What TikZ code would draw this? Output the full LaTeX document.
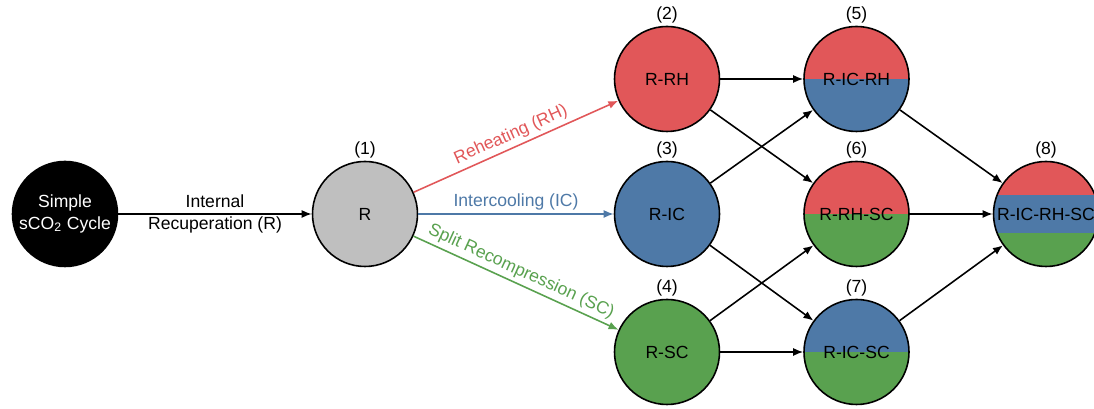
\documentclass[tikz,border=0pt]{standalone}
\usepackage{fontspec}
\setmainfont{Liberation Sans}
\usepackage{xcolor}
\usepackage{tikz}
\usetikzlibrary{arrows.meta, positioning}

\definecolor{rhred}{HTML}{E15759}
\definecolor{icblue}{HTML}{4E79A7}
\definecolor{scgreen}{HTML}{59A14F}
\definecolor{rgray}{HTML}{BFBFBF}

\tikzset{
    stage/.style={circle, draw=black, line width=0.9pt, minimum size=2.1cm, inner sep=0pt, font=\fontsize{10}{12}\selectfont},
    tag/.style={label={[label distance=-0.7mm, font=\fontsize{10}{12}\selectfont]above:#1}},
    halves/.style 2 args={path picture={
        \fill[#1] (path picture bounding box.north west) rectangle (path picture bounding box.east);
        \fill[#2] (path picture bounding box.west) rectangle (path picture bounding box.south east);}},
    bands/.style={path picture={
        \fill[rhred] (path picture bounding box.north west) rectangle ([yshift=0.38cm]path picture bounding box.east);
        \fill[icblue] ([yshift=0.38cm]path picture bounding box.west) rectangle ([yshift=-0.38cm]path picture bounding box.east);
        \fill[scgreen] ([yshift=-0.38cm]path picture bounding box.west) rectangle (path picture bounding box.south east);}},
    flow/.style={line width=0.9pt, -{Latex[length=2mm, width=1.6mm]}},
    edgetext/.style={font=\fontsize{10}{12}\selectfont, inner sep=2pt},
}

\begin{document}
\begin{tikzpicture}
    \useasboundingbox (0,0) rectangle (21.88,8.18);

    % base cycle and recuperation
    \node[stage, fill=black, text=white, align=center] (sim) at (1.30,3.90) {Simple\\sCO\textsubscript{2} Cycle};
    \node[stage, fill=rgray, tag={(1)}] (r) at (7.30,3.90) {R};

    % single additions
    \node[stage, fill=rhred, tag={(2)}] (rh) at (13.34,6.60) {R-RH};
    \node[stage, fill=icblue, tag={(3)}] (ic) at (13.34,3.90) {R-IC};
    \node[stage, fill=scgreen, tag={(4)}] (sc) at (13.34,1.14) {R-SC};

    % pairs
    \node[stage, halves={rhred}{icblue}, tag={(5)}] (icrh) at (17.13,6.60) {R-IC-RH};
    \node[stage, halves={rhred}{scgreen}, tag={(6)}] (rhsc) at (17.13,3.90) {R-RH-SC};
    \node[stage, halves={icblue}{scgreen}, tag={(7)}] (icsc) at (17.13,1.14) {R-IC-SC};

    % all of them
    \node[stage, bands, tag={(8)}] (all) at (20.92,3.90) {R-IC-RH-SC};

    \draw[flow] (sim) -- node[edgetext, align=center] {Internal\\Recuperation (R)} (r);

    \draw[flow, rhred] (r) -- node[edgetext, text=rhred, sloped, above] {Reheating (RH)} (rh);
    \draw[flow, icblue] (r) -- node[edgetext, text=icblue, above] {Intercooling (IC)} (ic);
    \draw[flow, scgreen] (r) -- node[edgetext, text=scgreen, sloped, above] {Split Recompression (SC)} (sc);

    \draw[flow] (rh) -- (icrh);
    \draw[flow] (rh) -- (rhsc);
    \draw[flow] (ic) -- (icrh);
    \draw[flow] (ic) -- (icsc);
    \draw[flow] (sc) -- (rhsc);
    \draw[flow] (sc) -- (icsc);

    \foreach \n in {icrh, rhsc, icsc}
        \draw[flow] (\n) -- (all);
\end{tikzpicture}
\end{document}
